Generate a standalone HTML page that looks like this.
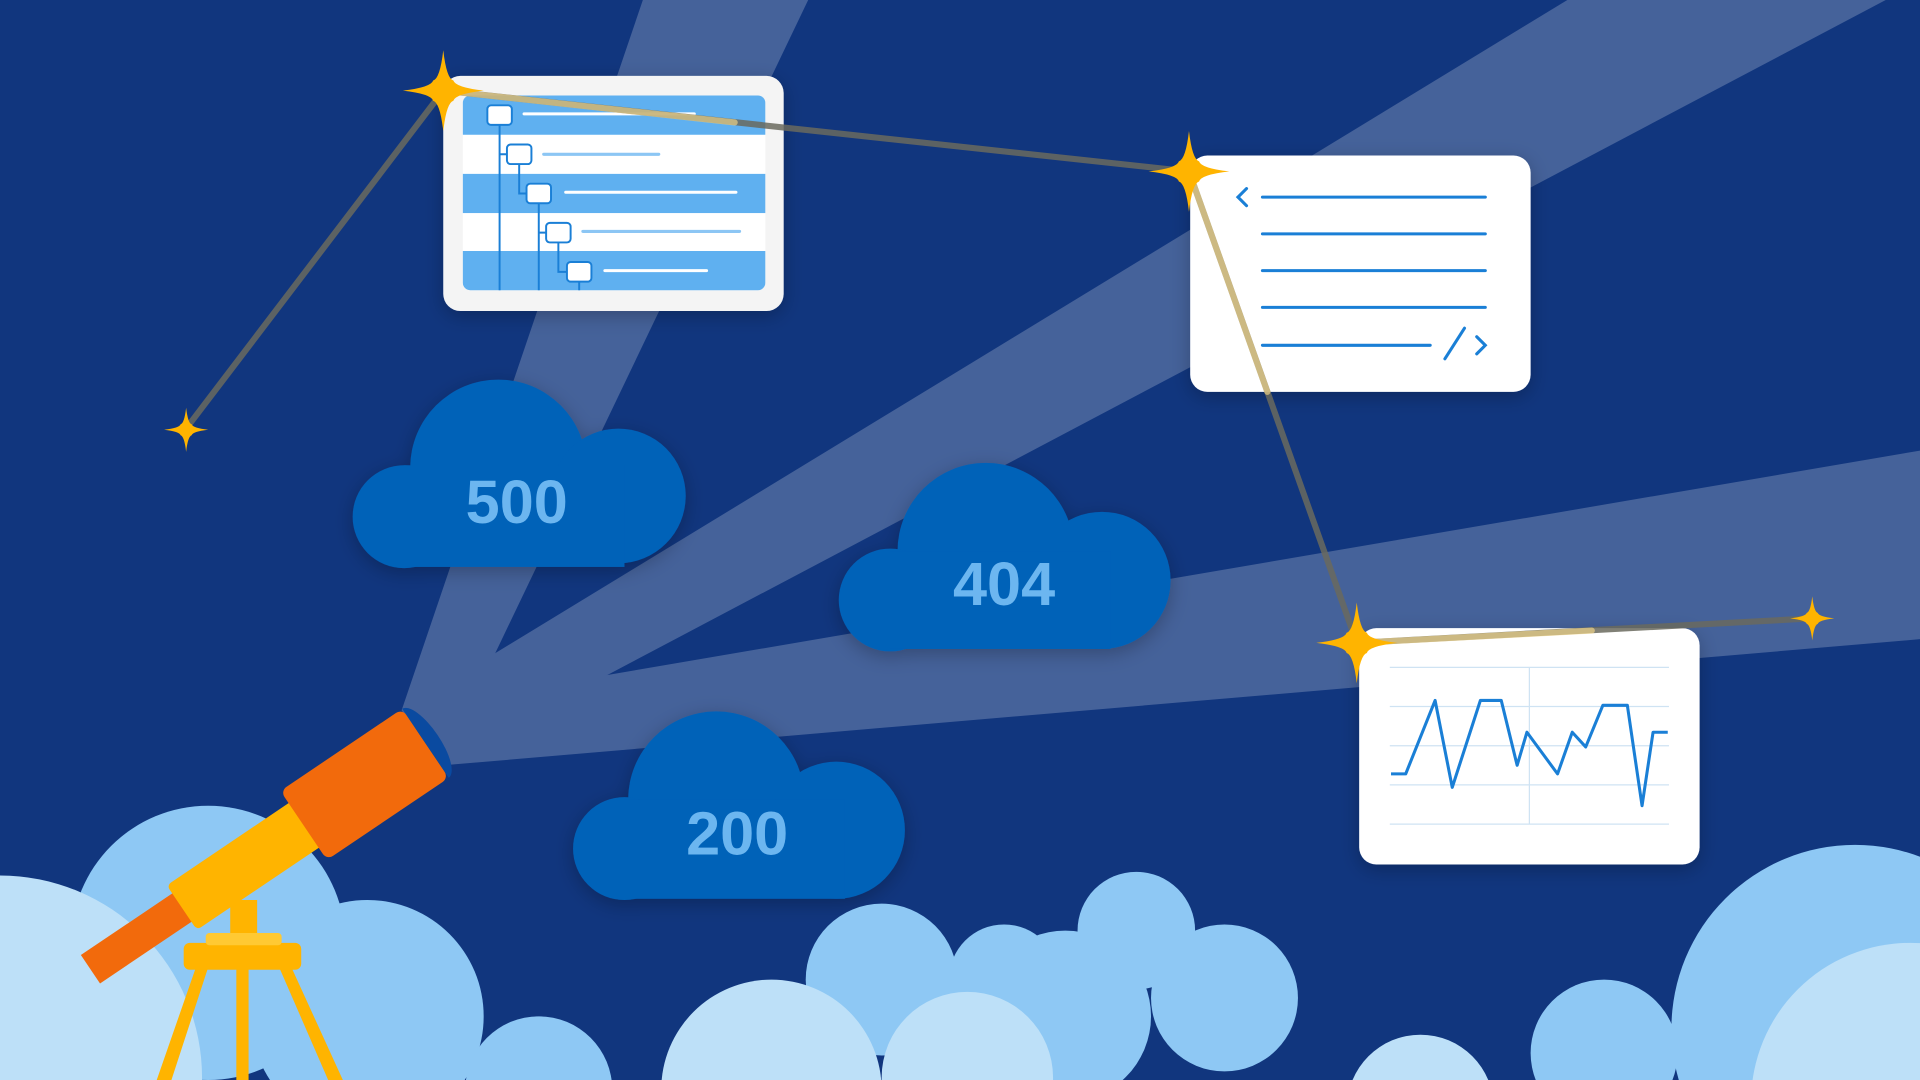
<!DOCTYPE html>
<html><head><meta charset="utf-8"><style>html,body{margin:0;padding:0;background:#11367e;overflow:hidden;width:1920px;height:1080px}svg{display:block;overflow:hidden}</style></head><body>
<svg width="1920" height="1080" viewBox="0 0 1568 882" xmlns="http://www.w3.org/2000/svg" font-family="Liberation Sans, sans-serif">
<defs>
<filter id="sh" x="-20%" y="-20%" width="140%" height="140%"><feDropShadow dx="0" dy="4" stdDeviation="8" flood-color="#000" flood-opacity="0.25"/></filter>
<g id="star"><path d="M0,-1 Q0.08,-0.3 0.25,-0.25 Q0.3,-0.08 1,0 Q0.3,0.08 0.25,0.25 Q0.08,0.3 0,1 Q-0.08,0.3 -0.25,0.25 Q-0.3,0.08 -1,0 Q-0.3,-0.08 -0.25,-0.25 Q-0.08,-0.3 0,-1Z" fill="#ffb400"/></g>
</defs>
<rect width="1568" height="882" fill="#11367e"/>
<g fill="#ffffff" opacity="0.22">
<polygon points="328,580 525,0 660,0 362,622"/>
<polygon points="328,580 1280,0 1540,0 362,622"/>
<polygon points="328,580 1568,368 1568,522 362,625"/>
</g>
<g fill="#0062b8" filter="url(#sh)">
<g><circle cx="407" cy="382" r="72"/><circle cx="505" cy="405" r="55"/><circle cx="330" cy="422" r="42"/><rect x="330" y="380" width="180" height="83"/></g>
<g><circle cx="805" cy="450" r="72"/><circle cx="900" cy="474" r="56"/><circle cx="727" cy="490" r="42"/><rect x="727" y="450" width="180" height="80"/></g>
<g><circle cx="585" cy="653" r="72"/><circle cx="683" cy="678" r="56"/><circle cx="510" cy="693" r="42"/><rect x="510" y="653" width="180" height="81"/></g>
</g>
<g fill="#6cb6f0" font-weight="bold" font-size="50" text-anchor="middle">
<text x="422" y="427">500</text><text x="820" y="494">404</text><text x="602" y="698">200</text>
</g>
<g filter="url(#sh)"><rect x="362" y="62" width="278" height="192" rx="14" fill="#f4f4f4"/></g>
<rect x="378" y="78" width="247" height="159" rx="6" fill="#ffffff"/>
<path d="M384,78h235a6,6 0 0 1 6,6v26h-247v-26a6,6 0 0 1 6,-6z" fill="#5fb0f0"/>
<rect x="378" y="142" width="247" height="32" fill="#5fb0f0"/>
<path d="M378,205h247v26a6,6 0 0 1 -6,6h-235a6,6 0 0 1 -6,-6z" fill="#5fb0f0"/>
<g stroke="#1a7fd6" stroke-width="1.6" fill="none">
<path d="M408,102V237M408,126h8M424,134V158h8M440,166V237M440,190h8M456,198V222h8M473,229V237"/>
</g>
<g fill="#fff" stroke="#1a7fd6" stroke-width="1.6">
<rect x="398" y="86" width="20" height="16" rx="3"/><rect x="414" y="118" width="20" height="16" rx="3"/><rect x="430" y="150" width="20" height="16" rx="3"/><rect x="446" y="182" width="20" height="16" rx="3"/><rect x="463" y="214" width="20" height="16" rx="3"/>
</g>
<g stroke-width="2.5" stroke-linecap="round">
<line x1="428" y1="93" x2="567" y2="93" stroke="#fff"/><line x1="444" y1="126" x2="538" y2="126" stroke="#8cc6f4"/><line x1="462" y1="157" x2="601" y2="157" stroke="#fff"/><line x1="476" y1="189" x2="604" y2="189" stroke="#8cc6f4"/><line x1="494" y1="221" x2="577" y2="221" stroke="#fff"/>
</g>
<g filter="url(#sh)"><rect x="972" y="127" width="278" height="193" rx="14" fill="#fff"/></g>
<g stroke="#1a7fd6" stroke-width="2.5" fill="none" stroke-linecap="round">
<line x1="1031" y1="161" x2="1213" y2="161"/><line x1="1031" y1="191" x2="1213" y2="191"/><line x1="1031" y1="221" x2="1213" y2="221"/><line x1="1031" y1="251" x2="1213" y2="251"/><line x1="1031" y1="282" x2="1168" y2="282"/>
<path d="M1018,154l-7,7l7,7"/><path d="M1206,275l7,7l-7,7"/><line x1="1180" y1="293" x2="1196" y2="268"/>
</g>
<g filter="url(#sh)"><rect x="1110" y="513" width="278" height="193" rx="14" fill="#fff"/></g>
<g stroke="#cfe3f3" stroke-width="1">
<line x1="1135" y1="545" x2="1363" y2="545"/><line x1="1135" y1="577" x2="1363" y2="577"/><line x1="1135" y1="609" x2="1363" y2="609"/><line x1="1135" y1="641" x2="1363" y2="641"/><line x1="1135" y1="673" x2="1363" y2="673"/><line x1="1249" y1="545" x2="1249" y2="673"/>
</g>
<polyline points="1136,632 1148,632 1172,572 1186,643 1209,572 1226,572 1239,625 1247,598 1272,632 1284,598 1295,610 1309,576 1329,576 1341,658 1350,598 1362,598" fill="none" stroke="#1a7fd6" stroke-width="2.5" stroke-linejoin="round"/>
<g stroke-width="5" fill="none" stroke-linecap="round">
<polyline points="152,350 362,74 971,140 1108,525 1480,505" stroke="#6a6a5e" opacity="0.85"/>
<line x1="362" y1="74" x2="600" y2="100" stroke="#ffe08a" opacity="0.6"/>
<line x1="971" y1="140" x2="1035" y2="320" stroke="#ffe08a" opacity="0.6"/>
<line x1="1108" y1="525" x2="1300" y2="515" stroke="#ffe08a" opacity="0.6"/>
</g>
<use href="#star" transform="translate(362,74) scale(33)"/>
<use href="#star" transform="translate(971,140) scale(33)"/>
<use href="#star" transform="translate(1108,525) scale(33)"/>
<use href="#star" transform="translate(152,351) scale(18)"/>
<use href="#star" transform="translate(1480,505) scale(18)"/>
<g fill="#8ec8f4">
<circle cx="170" cy="770" r="112"/><circle cx="300" cy="830" r="95"/><circle cx="440" cy="890" r="60"/>
<circle cx="720" cy="800" r="62"/><circle cx="820" cy="800" r="45"/><circle cx="928" cy="760" r="48"/><circle cx="1000" cy="815" r="60"/><circle cx="870" cy="830" r="70"/>
<circle cx="1515" cy="840" r="150"/><circle cx="1310" cy="860" r="60"/>
</g>
<g fill="#bde0f8">
<circle cx="0" cy="880" r="165"/><circle cx="630" cy="890" r="90"/><circle cx="790" cy="880" r="70"/><circle cx="1160" cy="905" r="60"/><circle cx="1560" cy="900" r="130"/>
</g>
<g fill="#ffb400">
<rect x="188" y="735" width="22" height="35"/>
<polygon points="160,790 170,790 140,882 128,882"/><polygon points="228,790 238,790 280,882 268,882"/><rect x="193" y="790" width="10" height="92"/>
<rect x="150" y="770" width="96" height="22" rx="5"/><rect x="168" y="762" width="62" height="10" rx="3" fill="#ffc933"/>
</g>
<g transform="translate(306,635) rotate(-34)">
<rect x="-280" y="-14" width="120" height="28" fill="#f26a0c"/>
<rect x="-190" y="-22" width="130" height="44" rx="4" fill="#ffb400"/>
<rect x="-70" y="-34" width="120" height="68" rx="6" fill="#f26a0c"/>
<path d="M50,-34 a12,34 0 0 1 0,68z" fill="#0a4aa0"/>
</g>
</svg>
</body></html>
